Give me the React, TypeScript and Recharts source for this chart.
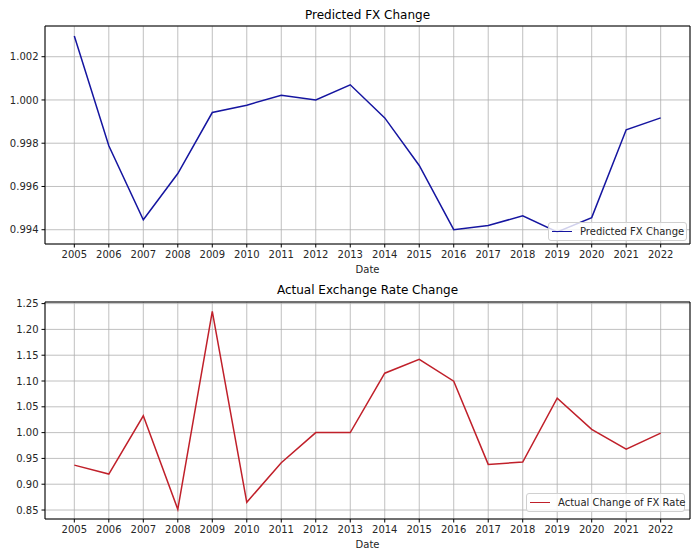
import React from 'react';
import { LineChart, Line, XAxis, YAxis, CartesianGrid, Legend, ReferenceArea } from 'recharts';

const years = [2005, 2006, 2007, 2008, 2009, 2010, 2011, 2012, 2013, 2014, 2015, 2016, 2017, 2018, 2019, 2020, 2021, 2022];
const predicted = [1.00296, 0.99788, 0.99446, 0.9966, 0.99942, 0.99976, 1.00022, 1.0, 1.0007, 0.99917, 0.99697, 0.994, 0.9942, 0.99464, 0.9939, 0.99456, 0.99862, 0.99917];
const actual = [0.937, 0.9197, 1.0325, 0.8513, 1.2351, 0.865, 0.9415, 1.0, 1.0, 1.1151, 1.1421, 1.0997, 0.9384, 0.9429, 1.0668, 1.0062, 0.968, 0.999];

const predictedTicks = [0.994, 0.996, 0.998, 1.0, 1.002];
const actualTicks = [0.85, 0.9, 0.95, 1.0, 1.05, 1.1, 1.15, 1.2, 1.25];

const FONT = '"DejaVu Sans", sans-serif';
const xDomain: [number, number] = [2004.15, 2022.85];

const data = years.map((year, i) => ({ year, predicted: predicted[i], actual: actual[i] }));

function LegendBox({ color, label, width }: { color: string; label: string; width: number }) {
  return (
    <div
      style={{
        width,
        height: 19,
        boxSizing: 'border-box',
        border: '1px solid #d0d0d0',
        borderRadius: 3,
        background: 'rgba(255,255,255,0.8)',
        display: 'flex',
        alignItems: 'center',
        whiteSpace: 'nowrap',
        fontFamily: FONT,
        fontSize: 10,
        color: '#262626',
      }}
    >
      <span style={{ display: 'inline-block', flex: 'none', width: 20, height: 0, borderTop: `1.5px solid ${color}`, marginLeft: 3, marginRight: 8 }} />
      <span>{label}</span>
    </div>
  );
}

type PanelProps = {
  title: string;
  dataKey: string;
  color: string;
  ticks: number[];
  domain: [number, number];
  digits: number;
  top: number;
  marginTop: number;
  titleTop: number;
  axisHeight: number;
  labelOffset: number;
  legendLabel: string;
  legendLeft: number;
  legendTop: number;
  legendWidth: number;
};

function Panel(p: PanelProps) {
  return (
    <div style={{ position: 'absolute', left: 0, top: p.top, width: 700, height: 280 }}>
      <div
        style={{
          position: 'absolute',
          left: 45,
          width: 645,
          top: p.titleTop,
          textAlign: 'center',
          fontFamily: FONT,
          fontSize: 12,
          color: '#000',
        }}
      >
        {p.title}
      </div>
      <LineChart
        width={700}
        height={280}
        data={data}
        margin={{ top: p.marginTop, right: 10, bottom: 0, left: 0 }}
        style={{ fontFamily: FONT }}
      >
        <CartesianGrid stroke="#b0b0b0" strokeWidth={0.8} />
        <XAxis
          dataKey="year"
          type="number"
          domain={xDomain}
          allowDataOverflow
          ticks={years}
          interval={0}
          height={p.axisHeight}
          axisLine={false}
          tickSize={3.5}
          tickMargin={3}
          tickLine={{ stroke: '#000' }}
          tick={{ fill: '#262626', fontSize: 10 }}
          label={{ value: 'Date', position: 'insideBottom', offset: p.labelOffset, fill: '#262626', fontSize: 10 }}
        />
        <YAxis
          type="number"
          domain={p.domain}
          allowDataOverflow
          ticks={p.ticks}
          interval={0}
          width={45}
          axisLine={false}
          tickSize={3.5}
          tickMargin={3}
          tickLine={{ stroke: '#000' }}
          tick={{ fill: '#262626', fontSize: 10 }}
          tickFormatter={(v: number) => v.toFixed(p.digits)}
        />
        <Line type="linear" dataKey={p.dataKey} stroke={p.color} strokeWidth={1.5} dot={false} isAnimationActive={false} />
        <ReferenceArea x1={xDomain[0]} x2={xDomain[1]} y1={p.domain[0]} y2={p.domain[1]} fill="none" stroke="#000" strokeWidth={1} />
        <Legend
          layout="vertical"
          align="center"
          verticalAlign="middle"
          wrapperStyle={{ position: 'absolute', left: p.legendLeft, top: p.legendTop, width: p.legendWidth }}
          content={() => <LegendBox color={p.color} label={p.legendLabel} width={p.legendWidth} />}
        />
      </LineChart>
    </div>
  );
}

export default function App() {
  return (
    <div style={{ position: 'absolute', left: 0, top: 0, width: 700, height: 560, background: '#fff' }}>
      <Panel
        title="Predicted FX Change"
        dataKey="predicted"
        color="#1515a0"
        ticks={predictedTicks}
        domain={[0.99334, 1.00342]}
        digits={3}
        top={0}
        marginTop={26}
        titleTop={8}
        axisHeight={36}
        labelOffset={7}
        legendLabel="Predicted FX Change"
        legendLeft={548}
        legendTop={222}
        legendWidth={139}
      />
      <Panel
        title="Actual Exchange Rate Change"
        dataKey="actual"
        color="#c0202a"
        ticks={actualTicks}
        domain={[0.8326, 1.2531]}
        digits={2}
        top={280}
        marginTop={22}
        titleTop={3}
        axisHeight={41}
        labelOffset={12}
        legendLabel="Actual Change of FX Rate"
        legendLeft={526}
        legendTop={213}
        legendWidth={159}
      />
    </div>
  );
}
